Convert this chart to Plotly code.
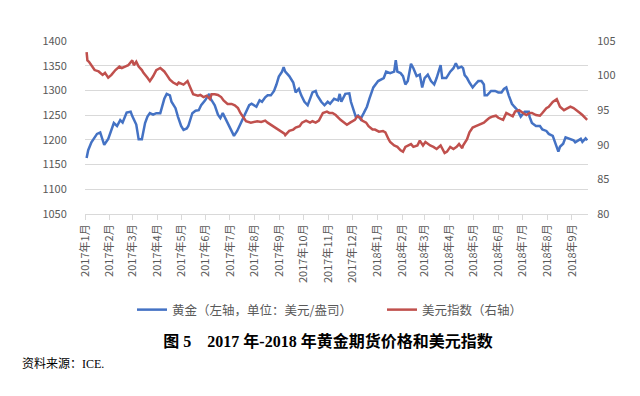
import plotly.graph_objects as go

# ---- data ----
gold_dates = ["2017-01-03","2017-01-05","2017-01-09","2017-01-12","2017-01-16","2017-01-20","2017-01-25","2017-01-30",
"2017-02-02","2017-02-06","2017-02-10","2017-02-14","2017-02-17","2017-02-22","2017-02-27","2017-03-01","2017-03-06",
"2017-03-08","2017-03-09","2017-03-13","2017-03-15","2017-03-17","2017-03-20","2017-03-23","2017-03-27","2017-03-31",
"2017-04-05","2017-04-10","2017-04-13","2017-04-17","2017-04-19","2017-04-24","2017-04-27","2017-05-01","2017-05-04",
"2017-05-08","2017-05-10","2017-05-15","2017-05-19","2017-05-23","2017-05-26","2017-05-31","2017-06-05","2017-06-07",
"2017-06-12","2017-06-16","2017-06-19","2017-06-22","2017-06-26","2017-06-29","2017-07-03","2017-07-06","2017-07-10",
"2017-07-14","2017-07-18","2017-07-21","2017-07-25","2017-07-28","2017-08-03","2017-08-07","2017-08-10","2017-08-14",
"2017-08-17","2017-08-21","2017-08-25","2017-08-28","2017-08-31","2017-09-04","2017-09-06","2017-09-08","2017-09-13",
"2017-09-18","2017-09-21","2017-09-25","2017-09-28","2017-10-02","2017-10-06","2017-10-09","2017-10-12","2017-10-16",
"2017-10-18","2017-10-23","2017-10-27","2017-10-31","2017-11-03","2017-11-08","2017-11-13","2017-11-15","2017-11-17",
"2017-11-22","2017-11-27","2017-11-29","2017-12-01","2017-12-05","2017-12-08","2017-12-11","2017-12-15","2017-12-19",
"2017-12-22","2017-12-27","2018-01-02","2018-01-05","2018-01-09","2018-01-12","2018-01-17","2018-01-22","2018-01-24",
"2018-01-26","2018-01-30","2018-02-02","2018-02-05","2018-02-08","2018-02-12","2018-02-15","2018-02-19","2018-02-23",
"2018-02-26","2018-03-01","2018-03-05","2018-03-09","2018-03-13","2018-03-16","2018-03-21","2018-03-23","2018-03-28",
"2018-04-02","2018-04-06","2018-04-09","2018-04-12","2018-04-16","2018-04-18","2018-04-20","2018-04-23","2018-04-26",
"2018-04-30","2018-05-03","2018-05-07","2018-05-11","2018-05-14","2018-05-15","2018-05-18","2018-05-23","2018-05-28",
"2018-06-01","2018-06-05","2018-06-08","2018-06-11","2018-06-14","2018-06-18","2018-06-21","2018-06-25","2018-06-29",
"2018-07-04","2018-07-09","2018-07-10","2018-07-13","2018-07-18","2018-07-23","2018-07-26","2018-07-31","2018-08-03",
"2018-08-08","2018-08-10","2018-08-15","2018-08-17","2018-08-21","2018-08-24","2018-08-28","2018-09-03","2018-09-05",
"2018-09-10","2018-09-12","2018-09-14","2018-09-18","2018-09-20"]
gold_values = [1163,1179,1195,1202,1212,1215,1190,1202,
1215,1234,1228,1240,1235,1255,1257,1248,1231,
1209,1201,1201,1221,1234,1247,1254,1251,1254,
1254,1283,1293,1290,1277,1264,1247,1228,1220,
1223,1228,1254,1259,1260,1270,1280,1293,1283,
1270,1251,1244,1254,1241,1231,1221,1208,1218,
1231,1247,1254,1270,1273,1267,1280,1277,1286,
1290,1290,1299,1312,1328,1338,1347,1338,1329,
1316,1296,1303,1290,1277,1270,1283,1296,1299,
1290,1277,1270,1277,1273,1283,1280,1293,1277,
1293,1294,1277,1267,1247,1249,1242,1254,1267,
1283,1306,1319,1322,1325,1338,1335,1338,1361,
1338,1335,1329,1312,1319,1354,1345,1329,1332,
1306,1325,1332,1319,1312,1325,1351,1325,1325,
1338,1345,1355,1345,1348,1345,1331,1325,1316,
1306,1312,1319,1319,1312,1290,1290,1299,1299,
1296,1296,1303,1306,1290,1273,1267,1260,1247,
1257,1257,1247,1234,1228,1228,1221,1218,1212,
1208,1199,1176,1186,1192,1205,1202,1199,1195,
1199,1202,1196,1203,1199]

usd_dates = ["2017-01-03","2017-01-04","2017-01-06","2017-01-10","2017-01-13","2017-01-18","2017-01-23","2017-01-26",
"2017-01-30","2017-02-03","2017-02-08","2017-02-13","2017-02-16","2017-02-20","2017-02-24","2017-03-01","2017-03-03",
"2017-03-06","2017-03-09","2017-03-13","2017-03-15","2017-03-20","2017-03-23","2017-03-27","2017-03-31","2017-04-05",
"2017-04-10","2017-04-13","2017-04-17","2017-04-21","2017-04-26","2017-04-28","2017-05-04","2017-05-09","2017-05-12",
"2017-05-16","2017-05-22","2017-05-25","2017-05-29","2017-06-02","2017-06-06","2017-06-08","2017-06-12","2017-06-16",
"2017-06-20","2017-06-23","2017-06-28","2017-07-03","2017-07-07","2017-07-11","2017-07-14","2017-07-18","2017-07-21",
"2017-07-27","2017-08-01","2017-08-04","2017-08-09","2017-08-14","2017-08-17","2017-08-21","2017-08-25","2017-08-30",
"2017-09-04","2017-09-07","2017-09-08","2017-09-13","2017-09-18","2017-09-21","2017-09-26","2017-09-29","2017-10-04",
"2017-10-09","2017-10-12","2017-10-16","2017-10-20","2017-10-25","2017-10-30","2017-11-02","2017-11-06","2017-11-10",
"2017-11-16","2017-11-20","2017-11-24","2017-11-28","2017-12-04","2017-12-07","2017-12-11","2017-12-13","2017-12-18",
"2017-12-21","2017-12-26","2017-12-29","2018-01-03","2018-01-08","2018-01-11","2018-01-15","2018-01-17","2018-01-22",
"2018-01-26","2018-01-30","2018-02-02","2018-02-05","2018-02-08","2018-02-12","2018-02-15","2018-02-20","2018-02-23",
"2018-02-27","2018-03-02","2018-03-08","2018-03-12","2018-03-16","2018-03-21","2018-03-26","2018-03-29","2018-04-02",
"2018-04-06","2018-04-10","2018-04-13","2018-04-17","2018-04-18","2018-04-23","2018-04-26","2018-04-30","2018-05-04",
"2018-05-09","2018-05-14","2018-05-17","2018-05-21","2018-05-25","2018-05-29","2018-06-01","2018-06-07","2018-06-11",
"2018-06-15","2018-06-19","2018-06-22","2018-06-27","2018-07-02","2018-07-06","2018-07-10","2018-07-13","2018-07-18",
"2018-07-23","2018-07-26","2018-07-31","2018-08-03","2018-08-08","2018-08-13","2018-08-15","2018-08-17","2018-08-22",
"2018-08-27","2018-08-30","2018-09-03","2018-09-07","2018-09-11","2018-09-14","2018-09-19","2018-09-20"]
usd_values = [103.4,102.2,102.0,101.3,100.8,100.6,100.1,100.4,
99.7,100.1,100.8,101.3,101.1,101.3,101.5,102.2,101.5,
102.0,101.3,100.8,100.4,99.7,99.2,99.9,100.8,101.1,
100.6,100.1,99.4,99.0,98.7,99.0,98.7,99.2,98.3,
97.3,97.1,97.2,96.9,97.1,96.6,97.3,97.3,97.2,
96.9,96.4,95.9,95.9,95.7,95.3,94.6,93.9,93.4,
93.2,93.3,93.4,93.3,93.5,93.2,92.9,92.5,92.2,
91.8,91.6,91.4,92.0,92.2,92.5,92.7,93.2,93.5,
93.2,93.4,93.2,93.5,94.6,94.8,94.6,94.6,94.3,
93.6,93.2,92.9,93.2,93.6,94.1,93.9,93.5,93.2,
92.7,92.2,92.2,91.9,92.0,91.8,90.8,90.4,89.9,
89.7,89.2,89.0,89.7,89.9,90.1,89.7,89.9,90.6,
89.9,90.4,89.9,89.7,89.4,89.9,88.8,89.0,89.7,
89.4,89.7,90.1,89.5,89.9,90.8,91.8,92.5,92.7,
92.9,93.2,93.5,93.9,94.1,94.2,93.9,93.6,94.6,
94.3,94.1,94.8,95.0,94.6,94.3,94.6,94.6,94.3,
94.2,94.6,95.3,95.5,96.2,96.6,95.9,95.5,95.0,
95.3,95.5,95.3,95.0,94.6,94.3,93.7,93.6]

tick_dates = ["2017-01-01","2017-02-01","2017-03-01","2017-04-01","2017-05-01","2017-06-01","2017-07-01",
"2017-08-01","2017-09-01","2017-10-01","2017-11-01","2017-12-01","2018-01-01","2018-02-01","2018-03-01",
"2018-04-01","2018-05-01","2018-06-01","2018-07-01","2018-08-01","2018-09-01"]
tick_labels = ["2017年1月","2017年2月","2017年3月","2017年4月","2017年5月","2017年6月","2017年7月",
"2017年8月","2017年9月","2017年10月","2017年11月","2017年12月","2018年1月","2018年2月","2018年3月",
"2018年4月","2018年5月","2018年6月","2018年7月","2018年8月","2018年9月"]

gold_name = "黄金（左轴，单位：美元/盎司）"
usd_name = "美元指数（右轴）"
title_text = "<b>图 5　2017 年-2018 年黄金期货价格和美元指数</b>"
source_text = "资料来源：ICE."

SANS = "Noto Sans CJK SC, Noto Sans, sans-serif"
SERIF = "Liberation Serif, Noto Sans CJK SC, serif"
GREY = "#595959"
GRID = "#d9d9d9"

fig = go.Figure()
fig.add_trace(go.Scatter(x=gold_dates, y=gold_values, name=gold_name, mode="lines",
                         line=dict(color="#4472c4", width=2.5)))
fig.add_trace(go.Scatter(x=usd_dates, y=usd_values, name=usd_name, mode="lines", yaxis="y2",
                         line=dict(color="#c0504d", width=2.5)))

fig.update_layout(
    width=640, height=396,
    margin=dict(l=77, r=60, t=33, b=183),
    paper_bgcolor="white", plot_bgcolor="white",
    font=dict(family=SANS, size=11, color=GREY),
    showlegend=True,
    legend=dict(orientation="h", xref="container", yref="container", x=124 / 640, y=1 - 302 / 396,
                xanchor="left", yanchor="middle", font=dict(size=12.5, color=GREY, family=SANS),
                itemwidth=30, tracegroupgap=0, bgcolor="rgba(0,0,0,0)",
                entrywidth=205, entrywidthmode="pixels"),
    title=dict(text=title_text, xref="container", yref="container", x=0.5, y=1 - 333 / 396,
               xanchor="center", yanchor="middle", font=dict(family=SERIF, size=16, color="black")),
    xaxis=dict(type="date", range=["2017-01-01", "2018-09-21"], tickmode="array",
               tickvals=tick_dates, ticktext=tick_labels, tickangle=-90,
               showgrid=False, showline=True, linecolor=GRID, linewidth=1,
               ticks="outside", ticklen=5, tickcolor=GRID,
               tickfont=dict(size=11, color=GREY, family=SANS)),
    yaxis=dict(range=[1050, 1400], tickvals=[1050, 1100, 1150, 1200, 1250, 1300, 1350, 1400],
               showgrid=True, gridcolor=GRID, gridwidth=1, zeroline=False, showline=False,
               ticks="outside", ticklen=15, tickcolor="rgba(0,0,0,0)",
               tickfont=dict(size=11, color=GREY, family=SANS)),
    yaxis2=dict(range=[80, 105], tickvals=[80, 85, 90, 95, 100, 105], overlaying="y", side="right",
                showgrid=False, zeroline=False, showline=False,
                ticks="outside", ticklen=6, tickcolor="rgba(0,0,0,0)",
                tickfont=dict(size=11, color=GREY, family=SANS)),
    annotations=[dict(text=source_text, xref="paper", yref="paper", x=(12 - 77) / 503, y=(213 - 369) / 180,
                      xanchor="left", yanchor="middle", showarrow=False,
                      font=dict(family=SERIF, size=12, color="black"))],
)

fig.write_html("out.html")
